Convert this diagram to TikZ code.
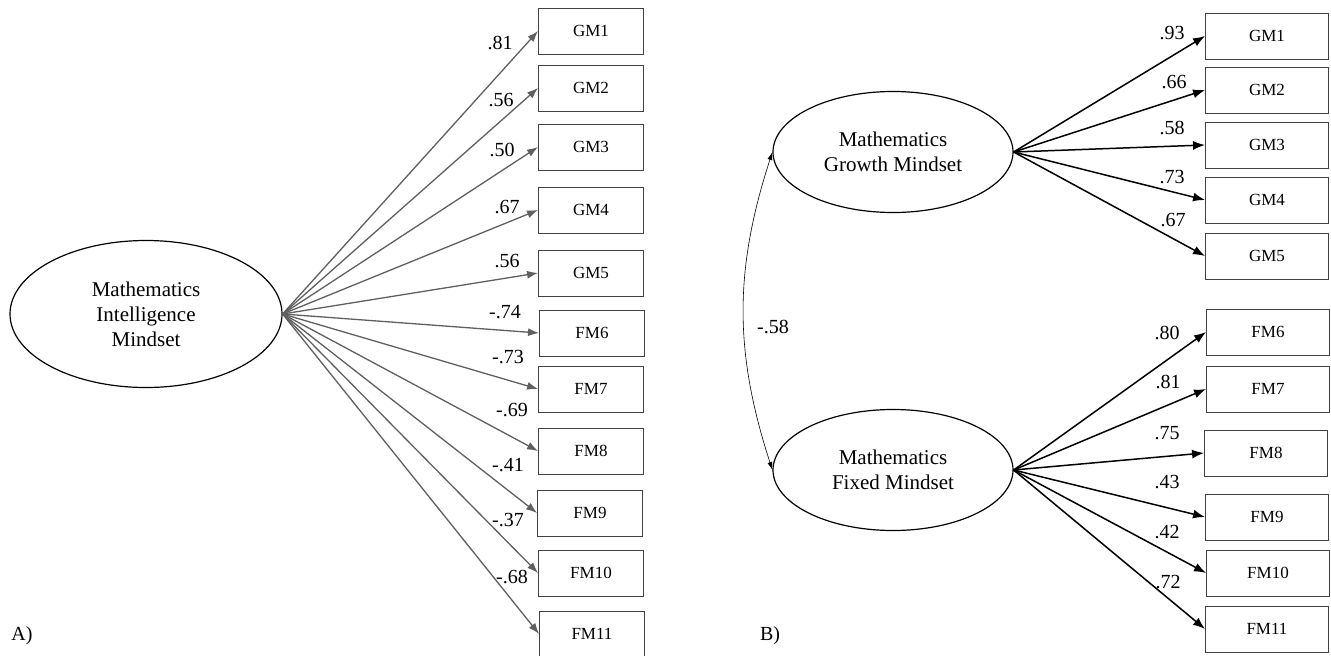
\documentclass[tikz,border=0pt]{standalone}
\usepackage{fontspec}
\setmainfont{Liberation Serif}
\usepackage{xcolor}
\usetikzlibrary{arrows.meta,shapes,positioning}
\definecolor{loadgray}{RGB}{95,95,95}

\begin{document}
\begin{tikzpicture}
          [x=1pt,y=-1pt,semithick]
          \tikzstyle{latent}=[ellipse,draw=black,line width=1.2pt,inner sep=0pt,align=center,font=\fontsize{21}{25}\selectfont]
          \tikzstyle{item}=[rectangle,draw=black!75,line width=0.9pt,minimum height=46pt,font=\fontsize{17}{20}\selectfont]
          \tikzstyle{load}=[font=\fontsize{20}{24}\selectfont,inner sep=0pt]
          \tikzstyle{onefac}=[loadgray,line width=1.3pt,-{Latex[length=11pt,width=8pt]}]
          \tikzstyle{twofac}=[black,line width=1.5pt,-{Latex[length=12pt,width=9pt]}]
          \useasboundingbox (0,0) rectangle (1331,656);

          % A) one-factor model
          \node[latent,minimum width=272pt,minimum height=147pt] (mim) at (146,314) {Mathematics\\Intelligence\\Mindset};
          \node[item,minimum width=105pt] (a1) at (591,31) {GM1};
          \node[item,minimum width=105pt] (a2) at (591,88) {GM2};
          \node[item,minimum width=105pt] (a3) at (591,147) {GM3};
          \node[item,minimum width=105pt] (a4) at (591,210) {GM4};
          \node[item,minimum width=105pt] (a5) at (591,273) {GM5};
          \node[item,minimum width=105pt] (a6) at (592,333) {FM6};
          \node[item,minimum width=105pt] (a7) at (591,389) {FM7};
          \node[item,minimum width=105pt] (a8) at (591,451) {FM8};
          \node[item,minimum width=105pt] (a9) at (590,513) {FM9};
          \node[item,minimum width=105pt] (a10) at (591,573) {FM10};
          \node[item,minimum width=105pt] (a11) at (592,634) {FM11};

          \path[onefac]
          (mim.east) edge (a1.west)
          (mim.east) edge (a2.west)
          (mim.east) edge (a3.west)
          (mim.east) edge (a4.west)
          (mim.east) edge (a5.west)
          (mim.east) edge (a6.west)
          (mim.east) edge (a7.west)
          (mim.east) edge (a8.west)
          (mim.east) edge (a9.west)
          (mim.east) edge (a10.west)
          (mim.east) edge (a11.west)
          ;

          \node[load] (wa1) at (500,43) {.81};
          \node[load] (wa2) at (501,100) {.56};
          \node[load] (wa3) at (502,150) {.50};
          \node[load] (wa4) at (507,207) {.67};
          \node[load] (wa5) at (507,261) {.56};
          \node[load] (wa6) at (505,312) {-.74};
          \node[load] (wa7) at (508,357) {-.73};
          \node[load] (wa8) at (512,410) {-.69};
          \node[load] (wa9) at (508,465) {-.41};
          \node[load] (wa10) at (508,520) {-.37};
          \node[load] (wa11) at (512,577) {-.68};
          \node[load] (tagA) at (22,636) {A)};

          % B) two-factor model
          \node[latent,minimum width=240pt,minimum height=121pt] (mgm) at (893,152) {Mathematics\\Growth Mindset};
          \node[latent,minimum width=240pt,minimum height=121pt] (mfm) at (893,470) {Mathematics\\Fixed Mindset};
          \node[item,minimum width=123pt] (b1) at (1267,36) {GM1};
          \node[item,minimum width=123pt] (b2) at (1267,90) {GM2};
          \node[item,minimum width=123pt] (b3) at (1267,145) {GM3};
          \node[item,minimum width=123pt] (b4) at (1267,200) {GM4};
          \node[item,minimum width=123pt] (b5) at (1267,256) {GM5};
          \node[item,minimum width=123pt] (b6) at (1268,332) {FM6};
          \node[item,minimum width=123pt] (b7) at (1268,389) {FM7};
          \node[item,minimum width=123pt] (b8) at (1266,453) {FM8};
          \node[item,minimum width=123pt] (b9) at (1267,517) {FM9};
          \node[item,minimum width=123pt] (b10) at (1268,573) {FM10};
          \node[item,minimum width=123pt] (b11) at (1267,629) {FM11};

          \path[twofac]
          (mgm.east) edge (b1.west)
          (mgm.east) edge (b2.west)
          (mgm.east) edge (b3.west)
          (mgm.east) edge (b4.west)
          (mgm.east) edge (b5.west)
          (mfm.east) edge (b6.west)
          (mfm.east) edge (b7.west)
          (mfm.east) edge (b8.west)
          (mfm.east) edge (b9.west)
          (mfm.east) edge (b10.west)
          (mfm.east) edge (b11.west)
          ;
          \draw[black,line width=0.6pt,{Latex[length=8pt,width=5pt]}-{Latex[length=8pt,width=5pt]}]
          (mgm.west) to[bend right=18] (mfm.west);

          \node[load] (wb1) at (1172,33) {.93};
          \node[load] (wb2) at (1174,82) {.66};
          \node[load] (wb3) at (1172,128) {.58};
          \node[load] (wb4) at (1172,177) {.73};
          \node[load] (wb5) at (1173,220) {.67};
          \node[load] (wb6) at (1167,333) {.80};
          \node[load] (wb7) at (1168,382) {.81};
          \node[load] (wb8) at (1167,433) {.75};
          \node[load] (wb9) at (1167,482) {.43};
          \node[load] (wb10) at (1167,532) {.42};
          \node[load] (wb11) at (1168,582) {.72};
          \node[load] (wcov) at (773,327) {-.58};
          \node[load] (tagB) at (770,636) {B)};
        \end{tikzpicture}
\end{document}
